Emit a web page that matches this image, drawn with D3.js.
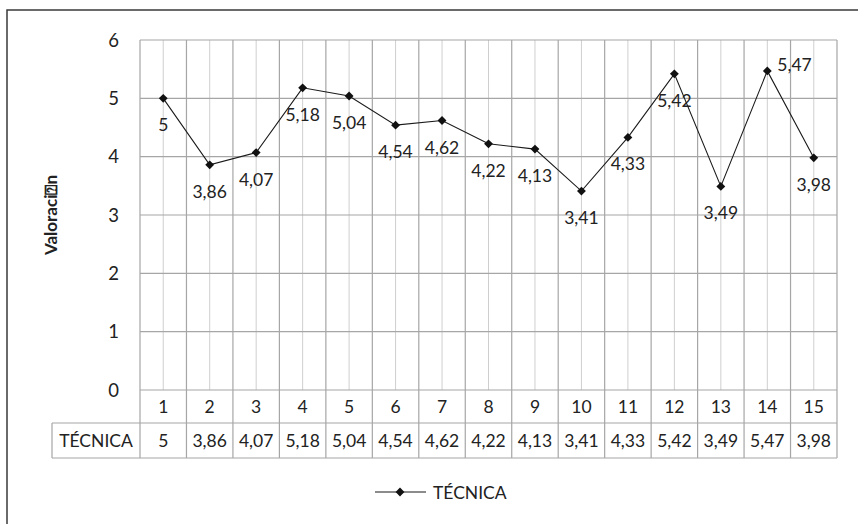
<!DOCTYPE html>
<html>
<head>
<meta charset="utf-8">
<script src="https://cdn.jsdelivr.net/npm/d3@7/dist/d3.min.js"></script>
<style>
  html, body { margin: 0; padding: 0; background: #fff; }
  svg { display: block; }
  text { font-family: Lato, "Open Sans", sans-serif; fill: #222; }
</style>
</head>
<body>
<script>
// Series: technical rating per item
const categories = ["1","2","3","4","5","6","7","8","9","10","11","12","13","14","15"];
const values = [5, 3.86, 4.07, 5.18, 5.04, 4.54, 4.62, 4.22, 4.13, 3.41, 4.33, 5.42, 3.49, 5.47, 3.98];
const yTicks = [0, 1, 2, 3, 4, 5, 6];
const seriesName = "TÉCNICA";
const yTitle = "Valoraci\u2370n";

const W = 858, H = 524;
const plot = { left: 140, right: 837, top: 40, bottom: 390 };
const rowH1 = 33, rowH2 = 35;      // data-table rows
const tableLabelLeft = 52;
const FS = 17.5;

const fmt = v => String(v).replace(".", ",");

const svg = d3.select("body").append("svg")
  .attr("width", W).attr("height", H);

svg.append("rect").attr("width", W).attr("height", H).attr("fill", "#fff");

// Outer chart frame
svg.append("rect")
  .attr("x", 7).attr("y", 10)
  .attr("width", W + 20).attr("height", H + 20)
  .attr("fill", "none").attr("stroke", "#3a3a3a").attr("stroke-width", 1.5);

const x = d3.scaleBand().domain(categories).range([plot.left, plot.right]).padding(0);
const y = d3.scaleLinear().domain([0, 6]).range([plot.bottom, plot.top]);
const cx = c => x(c) + x.bandwidth() / 2;

const grid = svg.append("g");

// Minor vertical gridlines through each category centre
grid.selectAll("line.minor").data(categories).join("line")
  .attr("x1", d => cx(d)).attr("x2", d => cx(d))
  .attr("y1", plot.top).attr("y2", plot.bottom)
  .attr("stroke", "#cfcfcf").attr("stroke-width", 1);

// Major vertical gridlines at category boundaries (extended through the table)
const bounds = categories.map(c => x(c)).concat([plot.right]);
grid.selectAll("line.major").data(bounds).join("line")
  .attr("x1", d => d).attr("x2", d => d)
  .attr("y1", plot.top).attr("y2", plot.bottom + rowH1 + rowH2)
  .attr("stroke", "#a6a6a6").attr("stroke-width", 1.2);

// Horizontal gridlines
grid.selectAll("line.h").data(yTicks).join("line")
  .attr("x1", plot.left).attr("x2", plot.right)
  .attr("y1", d => y(d)).attr("y2", d => y(d))
  .attr("stroke", "#a6a6a6").attr("stroke-width", 1.2);

// Table horizontal rules
const tY1 = plot.bottom + rowH1, tY2 = plot.bottom + rowH1 + rowH2;
grid.append("line").attr("x1", tableLabelLeft).attr("x2", plot.right)
  .attr("y1", tY1).attr("y2", tY1).attr("stroke", "#a6a6a6").attr("stroke-width", 1.2);
grid.append("line").attr("x1", tableLabelLeft).attr("x2", plot.right)
  .attr("y1", tY2).attr("y2", tY2).attr("stroke", "#a6a6a6").attr("stroke-width", 1.2);
grid.append("line").attr("x1", tableLabelLeft).attr("x2", tableLabelLeft)
  .attr("y1", tY1).attr("y2", tY2).attr("stroke", "#a6a6a6").attr("stroke-width", 1.2);

// Y-axis tick labels
svg.append("g").selectAll("text").data(yTicks).join("text")
  .attr("x", 119).attr("y", d => y(d) + 6.5)
  .attr("text-anchor", "end").attr("font-size", 18.5)
  .text(d => d);

// Y-axis title
svg.append("text")
  .attr("transform", `translate(57,${(plot.top + plot.bottom) / 2}) rotate(-90)`)
  .attr("text-anchor", "middle").attr("font-size", 17).attr("font-weight", "bold")
  .text(yTitle);

// Table: category row
svg.append("g").selectAll("text").data(categories).join("text")
  .attr("x", d => cx(d)).attr("y", plot.bottom + 23)
  .attr("text-anchor", "middle").attr("font-size", FS)
  .text(d => d);

// Table: value row
svg.append("text").attr("x", (tableLabelLeft + plot.left) / 2).attr("y", tY1 + 24)
  .attr("text-anchor", "middle").attr("font-size", FS).text(seriesName);
svg.append("g").selectAll("text").data(values).join("text")
  .attr("x", (d, i) => cx(categories[i])).attr("y", tY1 + 24)
  .attr("text-anchor", "middle").attr("font-size", FS)
  .text(d => fmt(d));

// Series line
const line = d3.line().x((d, i) => cx(categories[i])).y(d => y(d));
svg.append("path").datum(values)
  .attr("d", line).attr("fill", "none")
  .attr("stroke", "#1a1a1a").attr("stroke-width", 1.1);

const diamond = d3.symbol().type(d3.symbolDiamond2).size(50);
svg.append("g").selectAll("path").data(values).join("path")
  .attr("d", diamond)
  .attr("transform", (d, i) => `translate(${cx(categories[i])},${y(d)})`)
  .attr("fill", "#111");

// Data labels: below each point, except the one at item 14 which sits to the right
svg.append("g").selectAll("text").data(values).join("text")
  .attr("x", (d, i) => categories[i] === "14" ? cx(categories[i]) + 10 : cx(categories[i]))
  .attr("y", (d, i) => categories[i] === "14" ? y(d) : y(d) + 33)
  .attr("text-anchor", (d, i) => categories[i] === "14" ? "start" : "middle")
  .attr("font-size", FS)
  .text(d => fmt(d));

// Legend
const lg = svg.append("g").attr("transform", "translate(0,492)");
lg.append("line").attr("x1", 375).attr("x2", 426).attr("y1", 0).attr("y2", 0)
  .attr("stroke", "#1a1a1a").attr("stroke-width", 1.1);
lg.append("path").attr("d", diamond).attr("transform", "translate(400,0)").attr("fill", "#111");
lg.append("text").attr("x", 433).attr("y", 6.5).attr("font-size", FS).text(seriesName);
</script>
</body>
</html>
